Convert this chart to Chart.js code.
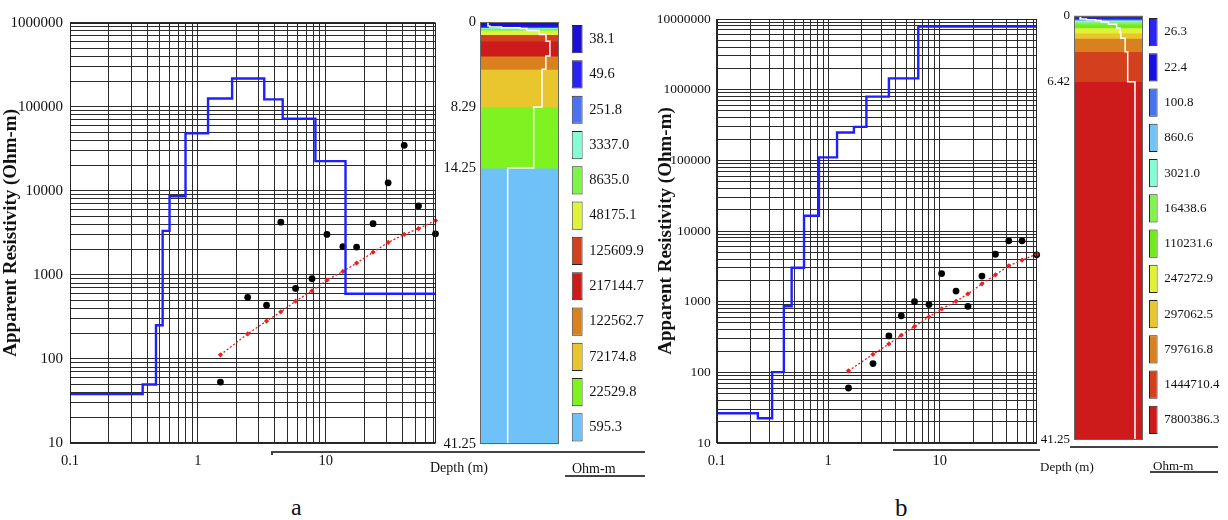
<!DOCTYPE html>
<html>
<head>
<meta charset="utf-8">
<script src="https://cdn.jsdelivr.net/npm/chart.js@4.4.1/dist/chart.umd.min.js"></script>
<style>
body { margin: 0; background: #fff; }
#wrap { position: relative; width: 1228px; height: 520px; overflow: hidden; font-family: 'Liberation Serif', 'Times New Roman', serif; color: #111; }
canvas { position: absolute; }
.t { position: absolute; white-space: nowrap; line-height: 1; }
.ln { position: absolute; background: #444; height: 1.5px; }
</style>
</head>
<body>
<div id="wrap">
  <canvas id="mainA" width="450" height="470" style="left:0;top:0"></canvas>
  <canvas id="colA" width="125" height="470" style="left:440px;top:0"></canvas>
  <canvas id="legA" width="80" height="470" style="left:565px;top:0"></canvas>
  <canvas id="mainB" width="420" height="470" style="left:625px;top:0"></canvas>
  <canvas id="colB" width="118" height="470" style="left:1030px;top:0"></canvas>
  <canvas id="legB" width="83" height="470" style="left:1145px;top:0"></canvas>

  <div class="ln" style="left:272px;top:451px;width:373px"></div>
  <div class="ln" style="left:271px;top:451px;width:1.5px;height:4px"></div>
  <div class="ln" style="left:565px;top:475px;width:80px"></div>
  <div class="ln" style="left:893px;top:449px;width:147px"></div>
  <div class="ln" style="left:1070px;top:446px;width:148px"></div>
  <div class="ln" style="left:1150px;top:471px;width:68px"></div>

  <div class="t" style="left:430px;top:461px;font-size:14px">Depth (m)</div>
  <div class="t" style="left:572px;top:462px;font-size:14px">Ohm-m</div>
  <div class="t" style="left:1040px;top:460px;font-size:13px">Depth (m)</div>
  <div class="t" style="left:1153px;top:459px;font-size:13px">Ohm-m</div>
  <div class="t" style="left:291px;top:495px;font-size:24px">a</div>
  <div class="t" style="left:895px;top:495px;font-size:25px">b</div>
</div>

<script>
var SERIF = "'Liberation Serif', 'Times New Roman', serif";
var MAX_DEPTH = 41.25;

// panel a: sounding curve (AB/2 in m, apparent resistivity in Ohm-m)
var abA = [1.5, 2.45, 3.44, 4.45, 5.8, 7.8, 10.2, 13.6, 17.4, 23.4, 30.7, 41, 53, 72];
var obsA = [53, 540, 435, 4240, 690, 900, 3030, 2170, 2140, 4070, 12450, 34800, 6600, 3080];
var calcA = [112, 199, 282, 363, 486, 646, 865, 1100, 1380, 1860, 2430, 3030, 3550, 4430];
// panel a: layered model
var rhoA = [38.1, 49.6, 251.8, 3337.0, 8635.0, 48175.1, 125609.9, 217144.7, 122562.7, 72174.8, 22529.8, 595.3];
var depthA = [0.37, 0.47, 0.53, 0.6, 0.8, 1.2, 1.85, 3.3, 4.6, 8.29, 14.25];
var colorsA = ['#1c0fd6', '#2b22f2', '#4d72f2', '#86fcd2', '#7ef34a', '#dff33a', '#d2401e', '#cd1b1b', '#d9801f', '#e9c62e', '#7ef31f', '#6fc2f7'];
var depthTicksA = [0, 8.29, 14.25, 41.25];
var xLabelsA = ['0.1', '1', '10'];
var yLabelsA = ['10', '100', '1000', '10000', '100000', '1000000'];

// panel b
var abB = [1.52, 2.52, 3.5, 4.52, 5.94, 8.0, 10.4, 14, 17.9, 23.9, 31.6, 41.6, 54.7, 74];
var obsB = [60, 133, 328, 630, 1000, 910, 2500, 1410, 860, 2300, 4690, 7250, 7250, 4600];
var calcB = [105, 180, 252, 335, 446, 610, 790, 1010, 1290, 1790, 2400, 3210, 3880, 4700];
var rhoB = [26.3, 22.4, 100.8, 860.6, 3021.0, 16438.6, 110231.6, 247272.9, 297062.5, 797616.8, 1444710.4, 7800386.3];
var depthB = [0.234, 0.314, 0.4, 0.47, 0.607, 0.826, 1.2, 1.7, 2.2, 3.5, 6.42];
var colorsB = ['#2b24f0', '#1a10e0', '#4a74ee', '#72c4f6', '#86fcd2', '#84f250', '#72ea20', '#dff236', '#e9c62e', '#d9801f', '#d2401e', '#cd1b1b'];
var depthTicksB = [0, 6.42, 41.25];
var xLabelsB = ['0.1', '1', '10'];
var yLabelsB = ['10', '100', '1000', '10000', '100000', '1000000', '10000000'];

Chart.defaults.color = '#111';
Chart.defaults.font.family = SERIF;

var frame = {
    id: 'frame',
    afterDraw: function (chart, args, opts) {
        if (!opts.color) return;
        var a = chart.chartArea, ctx = chart.ctx;
        ctx.save();
        ctx.strokeStyle = opts.color;
        ctx.lineWidth = opts.width || 1;
        ctx.strokeRect(Math.round(a.left) + 0.5, Math.round(a.top) + 0.5, Math.round(a.right - a.left) - 1, Math.round(a.bottom - a.top) - 1);
        ctx.restore();
    }
};

function logTicks(min, max) {
    var out = [];
    for (var e = Math.floor(Math.log10(min)); e <= Math.ceil(Math.log10(max)); e++) {
        for (var k = 1; k <= 9; k++) {
            var v = Number((k * Math.pow(10, e)).toPrecision(12));
            if (v >= min * 0.999999 && v <= max * 1.000001) out.push(v);
        }
    }
    return out;
}

function labelFor(v, labels) {
    for (var i = 0; i < labels.length; i++) {
        if (Math.abs(parseFloat(labels[i]) - v) < 1e-9 * v) return labels[i];
    }
    return '';
}

function pairs(xs, ys) {
    return xs.map(function (x, i) { return { x: x, y: ys[i] }; });
}

// blue step curve of the model: resistivity against depth
function stepModel(rho, depth, xMin, xMax) {
    var pts = [{ x: xMin, y: rho[0] }];
    for (var i = 0; i < depth.length; i++) pts.push({ x: depth[i], y: rho[i + 1] });
    pts.push({ x: xMax, y: rho[rho.length - 1] });
    return pts;
}

function mainChart(id, o) {
    return new Chart(document.getElementById(id), {
        type: 'line',
        data: {
            datasets: [
                { data: stepModel(o.rho, o.depth, 0.1, o.xMax), stepped: 'before', borderColor: '#1f1fff', borderWidth: 2.4, pointRadius: 0 },
                { data: pairs(o.ab, o.calc), borderColor: '#e52222', borderDash: [2, 2], borderWidth: 1.3, pointStyle: 'rectRot', pointRadius: 2.6, pointBackgroundColor: '#e52222', pointBorderWidth: 0, clip: false },
                { data: pairs(o.ab, o.obs), showLine: false, pointRadius: 3.4, pointBackgroundColor: '#000', pointBorderWidth: 0, clip: false }
            ]
        },
        options: {
            responsive: false,
            animation: false,
            layout: { padding: { left: o.padL, right: o.padR, top: o.padT, bottom: 0 } },
            plugins: { legend: { display: false }, tooltip: { enabled: false }, frame: { color: '#222' } },
            scales: {
                x: {
                    type: 'logarithmic', min: 0.1, max: o.xMax,
                    afterFit: function (s) { s.height = o.xH; },
                    afterBuildTicks: function (s) { s.ticks = logTicks(0.1, o.xMax).map(function (v) { return { value: v }; }); },
                    grid: { color: '#2b2b2b', lineWidth: 1, drawTicks: false },
                    border: { display: false },
                    ticks: { autoSkip: false, maxRotation: 0, padding: 9, font: { size: 14.5 }, callback: function (v) { return labelFor(v, o.xLabels); } }
                },
                y: {
                    type: 'logarithmic', min: 10, max: o.yMax,
                    afterFit: function (s) { s.width = o.yW; },
                    afterBuildTicks: function (s) { s.ticks = logTicks(10, o.yMax).map(function (v) { return { value: v }; }); },
                    grid: { color: '#2b2b2b', lineWidth: 1, drawTicks: false },
                    border: { display: false },
                    ticks: { autoSkip: false, padding: o.yPad, font: { size: o.yFont }, callback: function (v) { return labelFor(v, o.yLabels); } },
                    title: { display: true, text: 'Apparent Resistivity (Ohm-m)', font: { size: 19, weight: 'bold' }, padding: 0 }
                }
            }
        },
        plugins: [frame]
    });
}

function columnChart(id, o) {
    var sets = o.rho.map(function (r, i) {
        var top = i === 0 ? 0 : o.depth[i - 1];
        var bot = i < o.depth.length ? o.depth[i] : MAX_DEPTH;
        return { data: [[top, bot]], backgroundColor: o.colors[i], borderWidth: 0, order: 1 };
    });
    // white resistivity profile drawn inside the column
    var prof = [{ x: o.rho[0], y: 0 }];
    for (var i = 0; i < o.depth.length; i++) prof.push({ x: o.rho[i + 1], y: o.depth[i] });
    prof.push({ x: o.rho[o.rho.length - 1], y: MAX_DEPTH });
    sets.push({ type: 'line', data: prof, xAxisID: 'xr', stepped: 'after', borderColor: '#fff', borderWidth: 1.5, pointRadius: 0, order: 0 });

    return new Chart(document.getElementById(id), {
        type: 'bar',
        data: { labels: [''], datasets: sets },
        options: {
            responsive: false,
            animation: false,
            layout: { padding: { left: 0, right: o.padR, top: o.padT, bottom: o.padB } },
            datasets: { bar: { grouped: false, barPercentage: 1, categoryPercentage: 1 } },
            plugins: { legend: { display: false }, tooltip: { enabled: false }, frame: { color: '#666' } },
            scales: {
                x: { display: false },
                xr: { type: 'logarithmic', axis: 'x', display: false, min: o.rMin, max: o.rMax },
                y: {
                    min: 0, max: MAX_DEPTH, reverse: true,
                    afterFit: function (s) { s.width = o.yW; },
                    afterBuildTicks: function (s) { s.ticks = o.ticks.map(function (v) { return { value: v }; }); },
                    grid: { display: false, drawTicks: false, tickLength: 0 },
                    border: { display: false },
                    ticks: { autoSkip: false, padding: 4, font: { size: o.font }, callback: function (v) { return String(v); } }
                }
            }
        },
        plugins: [frame]
    });
}

function legendChart(id, o) {
    return new Chart(document.getElementById(id), {
        type: 'bar',
        data: {
            labels: o.rho.map(function (r) { return r.toFixed(1); }),
            datasets: [{ data: o.rho.map(function () { return [0, 1]; }), backgroundColor: o.colors, borderColor: '#222', borderWidth: 1, borderSkipped: false, barPercentage: 0.8, categoryPercentage: 1 }]
        },
        options: {
            indexAxis: 'y',
            responsive: false,
            animation: false,
            layout: { padding: { left: o.padL, right: 0, top: o.padT, bottom: o.padB } },
            plugins: { legend: { display: false }, tooltip: { enabled: false } },
            scales: {
                x: { display: false, min: 0, max: 1 },
                y: {
                    position: 'right',
                    afterFit: function (s) { s.width = o.yW; },
                    grid: { display: false, drawTicks: false, tickLength: 0 },
                    border: { display: false },
                    ticks: { autoSkip: false, padding: 6.6, font: { size: o.font } }
                }
            }
        }
    });
}

mainChart('mainA', { rho: rhoA, depth: depthA, ab: abA, obs: obsA, calc: calcA, xMax: 72, yMax: 1e6,
    padL: 0, padR: 14.5, padT: 22.7, xH: 27, yW: 70, yPad: 7, yFont: 15, xLabels: xLabelsA, yLabels: yLabelsA });
mainChart('mainB', { rho: rhoB, depth: depthB, ab: abB, obs: obsB, calc: calcB, xMax: 74.5, yMax: 1e7,
    padL: 30, padR: 8, padT: 19, xH: 27, yW: 61.7, yPad: 6, yFont: 13.5, xLabels: xLabelsB, yLabels: yLabelsB });

columnChart('colA', { rho: rhoA, depth: depthA, colors: colorsA, ticks: depthTicksA, rMin: 12.5, rMax: 7.7e5,
    padR: 6, padT: 22.3, padB: 25.7, yW: 40, font: 14.5 });
columnChart('colB', { rho: rhoB, depth: depthB, colors: colorsB, ticks: depthTicksB, rMin: 5.6, rMax: 4.7e7,
    padR: 5.3, padT: 15.7, padB: 30, yW: 44, font: 13 });

legendChart('legA', { rho: rhoA, colors: colorsA, padL: 6.7, padT: 21.5, padB: 470 - 445.1, yW: 62.3, font: 14.5 });
legendChart('legB', { rho: rhoB, colors: colorsB, padL: 4, padT: 14, padB: 470 - 437.6, yW: 70.3, font: 13 });
</script>
</body>
</html>
